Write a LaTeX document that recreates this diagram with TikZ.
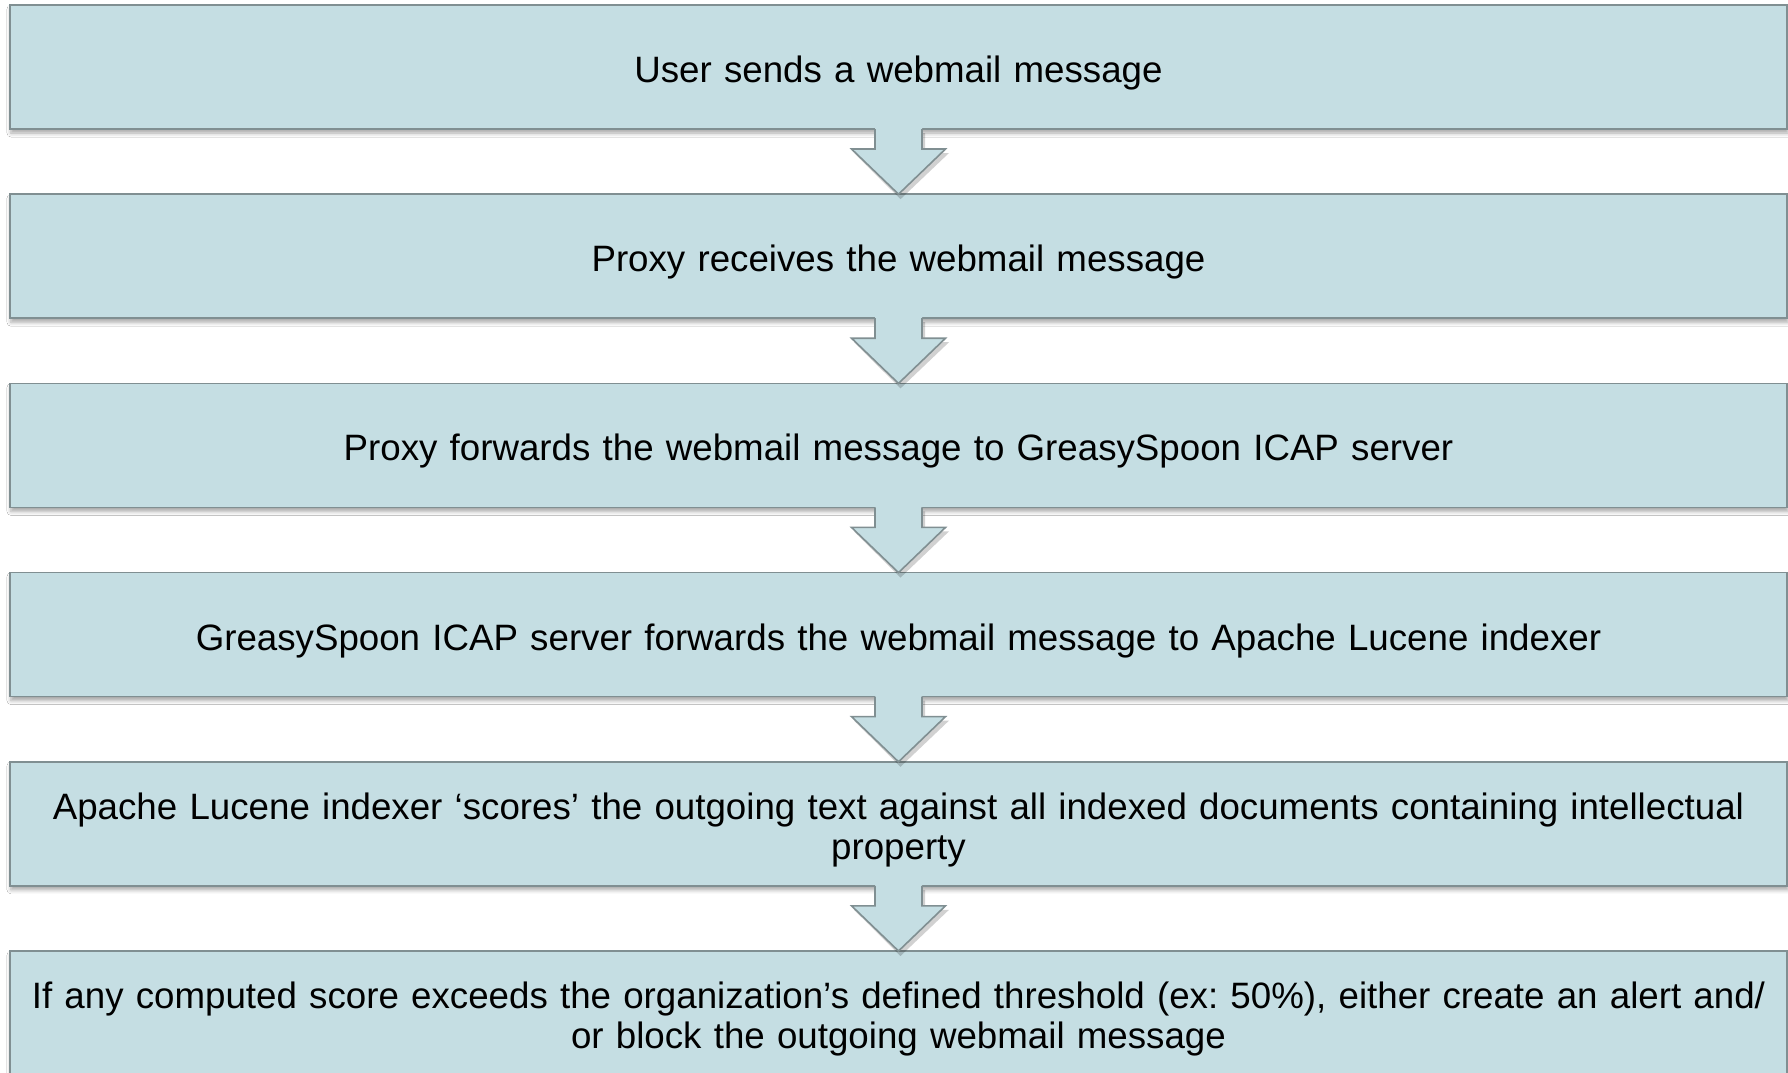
\documentclass[tikz,border=0pt]{standalone}
\usepackage{fontspec}
\setmainfont{Liberation Sans}
\usetikzlibrary{calc,shadows.blur}
\definecolor{boxfill}{RGB}{197,222,227}
\definecolor{boxline}{RGB}{128,143,146}
\tikzset{
  stepbox/.style={draw=boxline, line width=1.6pt, fill=boxfill, outer sep=0pt,
    minimum width=1777pt, minimum height=124pt, inner sep=0pt,
    blur shadow={shadow xshift=1pt, shadow yshift=-4pt, shadow blur radius=4pt, shadow opacity=35}},
  steptext/.style={inner sep=0pt, text width=1740pt, align=center,
    font=\fontsize{36.7}{40.5}\selectfont},
  arrowfill/.style={fill=boxfill},
  arrowline/.style={draw=boxline, line width=1.6pt, line join=miter}
}
\newcommand{\blockarrow}[2]{%
  \fill[black, opacity=0.18] ($(#1.south)+(-20.5,4)$) -- ($(#1.south)+(-20.5,24)$) -- ($(#1.south)+(-44.5,24)$) -- ($(#2.north)+(2,5)$) -- ($(#1.south)+(50.5,24)$) -- ($(#1.south)+(26.5,24)$) -- ($(#1.south)+(26.5,4)$) -- cycle;
  \fill[arrowfill] ($(#1.south)+(-23.5,-1.5)$) -- ($(#1.south)+(-23.5,20)$) -- ($(#1.south)+(-47,20)$) -- (#2.north) -- ($(#1.south)+(47,20)$) -- ($(#1.south)+(23.5,20)$) -- ($(#1.south)+(23.5,-1.5)$) -- cycle;
  \draw[arrowline] ($(#1.south)+(-23.5,0)$) -- ($(#1.south)+(-23.5,20)$) -- ($(#1.south)+(-47,20)$) -- (#2.north) -- ($(#1.south)+(47,20)$) -- ($(#1.south)+(23.5,20)$) -- ($(#1.south)+(23.5,0)$);
}
\begin{document}
\frenchspacing
\begin{tikzpicture}[x=1pt,y=-1pt]
\useasboundingbox (0,0) rectangle (1788,1073);
\clip (0,0) rectangle (1788,1073);
\fill[white] (0,0) rectangle (1788,1073);
\node[stepbox] (b1) at (898.5,67) {};
\node[stepbox] (b2) at (898.5,256.2) {};
\node[stepbox] (b3) at (898.5,445.4) {};
\node[stepbox] (b4) at (898.5,634.6) {};
\node[stepbox] (b5) at (898.5,823.8) {};
\node[stepbox] (b6) at (898.5,1013) {};
\node[steptext] (t1) at ($(b1.center)+(0,6)$) {User sends a webmail message};
\node[steptext] (t2) at ($(b2.center)+(0,6)$) {Proxy receives the webmail message};
\node[steptext] (t3) at ($(b3.center)+(0,6)$) {Proxy forwards the webmail message to GreasySpoon ICAP server};
\node[steptext] (t4) at ($(b4.center)+(0,6)$) {GreasySpoon ICAP server forwards the webmail message to Apache Lucene indexer};
\node[steptext] (t5) at ($(b5.center)+(0,6)$) {Apache Lucene indexer ‘scores’ the outgoing text against all indexed documents containing intellectual\\property};
\node[steptext] (t6) at ($(b6.center)+(0,6)$) {If any computed score exceeds the organization’s defined threshold (ex: 50\%), either create an alert and/\\or block the outgoing webmail message};
\blockarrow{b1}{b2}
\blockarrow{b2}{b3}
\blockarrow{b3}{b4}
\blockarrow{b4}{b5}
\blockarrow{b5}{b6}
\end{tikzpicture}
\end{document}
